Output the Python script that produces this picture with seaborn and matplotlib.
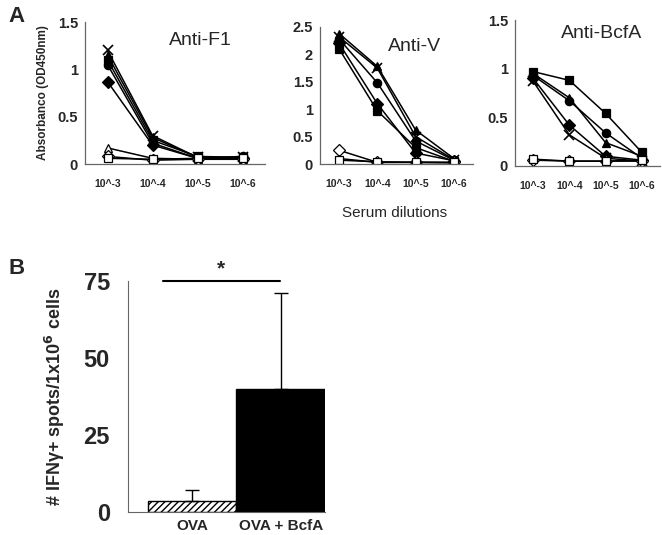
import numpy as np
import pandas as pd
import matplotlib
matplotlib.use("Agg")
import matplotlib.pyplot as plt
import seaborn as sns

sns.set_style("white")
plt.rcParams['font.family'] = ['Liberation Sans', 'DejaVu Sans']
plt.rcParams['font.weight'] = 'bold'

# dilution categories
dilutions = ['10^-3', '10^-4', '10^-5', '10^-6']

# Anti-F1 (immunised = filled, controls = open)
f1_x = [1.20, 0.30, 0.07, 0.07]
f1_tri = [1.15, 0.28, 0.07, 0.06]
f1_sq = [1.10, 0.25, 0.08, 0.07]
f1_circ = [1.05, 0.22, 0.06, 0.08]
f1_dia = [0.87, 0.20, 0.06, 0.06]
f1_open_tri = [0.17, 0.06, 0.05, 0.05]
f1_open_sq = [0.06, 0.05, 0.06, 0.06]
f1_open_dia = [0.08, 0.04, 0.05, 0.05]

# Anti-V
v_tri = [2.38, 1.78, 0.62, 0.10]
v_x = [2.32, 1.75, 0.50, 0.08]
v_circ = [2.28, 1.48, 0.42, 0.07]
v_dia = [2.20, 1.10, 0.20, 0.06]
v_sq = [2.10, 0.97, 0.30, 0.05]
v_open_dia = [0.25, 0.03, 0.03, 0.03]
v_open_sq = [0.07, 0.04, 0.03, 0.03]
v_open_tri = [0.10, 0.03, 0.03, 0.02]

# Anti-BcfA
b_sq = [0.97, 0.88, 0.54, 0.14]
b_tri = [0.95, 0.70, 0.24, 0.10]
b_circ = [0.93, 0.67, 0.34, 0.08]
b_dia = [0.90, 0.42, 0.10, 0.06]
b_x = [0.87, 0.32, 0.08, 0.05]
b_open_sq = [0.07, 0.05, 0.05, 0.06]
b_open_dia = [0.06, 0.05, 0.05, 0.05]

# panel B
groups = ['OVA', 'OVA + BcfA']
spots = [3.5, 40]
spots_sd = [3.5, 31]

W, H = 662, 535
fig = plt.figure(figsize=(W / 100, H / 100), dpi=100)


def px_axes(left, right, top, bottom):
    return fig.add_axes([left / W, 1 - bottom / H, (right - left) / W, (bottom - top) / H])


def line_panel(ax, series, ymax, yticks, ylabels, title, tx, ty):
    xs = np.arange(len(dilutions))
    for vals, m, filled in series:
        sns.lineplot(x=xs, y=vals, ax=ax, color='black', lw=1.1,
                     marker=m, markersize=6 if m != 'x' else 7,
                     markerfacecolor='black' if filled else 'white',
                     markeredgecolor='black', markeredgewidth=1.2 if m == 'x' else 0.9)
    ax.set_xlim(-0.5, 3.5)
    ax.set_ylim(0, ymax)
    ax.set_yticks(yticks)
    ax.set_yticklabels(ylabels, fontsize=10.5, fontweight='bold')
    ax.set_xticks(xs)
    ax.set_xticklabels(dilutions, fontsize=7.5, fontweight='bold')
    ax.set_xticks(np.arange(-0.5, 4, 1), minor=True)
    ax.tick_params(axis='x', which='major', length=0, pad=11)
    ax.tick_params(axis='x', which='minor', length=3, direction='out', width=0.8, color='#555555')
    ax.tick_params(axis='y', length=3, direction='out', width=0.8, color='#555555', pad=2)
    sns.despine(ax=ax)
    for s in ['left', 'bottom']:
        ax.spines[s].set_color('#666666')
        ax.spines[s].set_linewidth(0.9)
    ax.set_xlabel('')
    ax.set_ylabel('')
    ax.text(tx, ty, title, transform=ax.transAxes, fontsize=14, fontweight='normal',
            ha='center', va='center')


ax1 = px_axes(85, 265, 22, 164)
line_panel(ax1, [(f1_x, 'x', True), (f1_tri, '^', True), (f1_sq, 's', True),
                 (f1_circ, 'o', True), (f1_dia, 'D', True),
                 (f1_open_tri, '^', False), (f1_open_dia, 'D', False), (f1_open_sq, 's', False)],
           1.5, [0, 0.5, 1, 1.5], ['0', '0.5', '1', '1.5'], 'Anti-F1', 0.64, 0.87)
ax1.set_ylabel('Absorbanco (OD450nm)', fontsize=8.5, fontweight='bold', labelpad=6)

ax2 = px_axes(320, 473, 27, 164)
line_panel(ax2, [(v_tri, '^', True), (v_x, 'x', True), (v_circ, 'o', True),
                 (v_dia, 'D', True), (v_sq, 's', True),
                 (v_open_dia, 'D', False), (v_open_tri, '^', False), (v_open_sq, 's', False)],
           2.5, [0, 0.5, 1, 1.5, 2, 2.5], ['0', '0.5', '1', '1.5', '2', '2.5'], 'Anti-V', 0.62, 0.86)

ax3 = px_axes(515, 660, 20, 166)
line_panel(ax3, [(b_sq, 's', True), (b_tri, '^', True), (b_circ, 'o', True),
                 (b_dia, 'D', True), (b_x, 'x', True),
                 (b_open_dia, 'D', False), (b_open_sq, 's', False)],
           1.5, [0, 0.5, 1, 1.5], ['0', '0.5', '1', '1.5'], 'Anti-BcfA', 0.6, 0.91)

fig.text(395 / W, 1 - 213 / H, 'Serum dilutions', ha='center', va='center', fontsize=11,
         fontweight='normal')
fig.text(8 / W, 1 - 16 / H, 'A', ha='left', va='center', fontsize=16, fontweight='bold')
fig.text(8 / W, 1 - 268 / H, 'B', ha='left', va='center', fontsize=16, fontweight='bold')

# panel B bar chart
axb = px_axes(128, 325, 281, 512)
df = pd.DataFrame({'group': groups, 'spots': spots})
sns.barplot(data=df, x='group', y='spots', hue='group', palette=['white', 'black'],
            edgecolor='black', linewidth=1, width=1.0, legend=False, ax=axb)
axb.patches[0].set_hatch('/////')
axb.errorbar([0, 1], spots, yerr=[[0, 0], spots_sd], fmt='none', ecolor='black',
             elinewidth=1, capsize=5, capthick=1)
axb.set_xlim(-0.72, 1.5)
axb.set_ylim(0, 75)
axb.set_yticks([0, 25, 50, 75])
axb.set_yticklabels(['0', '25', '50', '75'], fontsize=17, fontweight='bold')
axb.set_xticks([0, 1])
axb.set_xticklabels(groups, fontsize=11, fontweight='bold')
axb.tick_params(axis='x', length=0, pad=5)
axb.tick_params(axis='y', length=5, direction='out', width=0.8, color='#555555', pad=8)
sns.despine(ax=axb)
for s in ['left', 'bottom']:
    axb.spines[s].set_color('#666666')
axb.set_xlabel('')
axb.set_ylabel('# IFNγ+ spots/1x10$^{6}$ cells', fontsize=13, fontweight='bold', labelpad=12)
axb.plot([-0.325, 0.995], [75, 75], color='black', lw=1.5, clip_on=False)
axb.text(0.33, 76, '*', ha='center', va='bottom', fontsize=15, fontweight='bold')

fig.savefig('out.png', dpi=100)
